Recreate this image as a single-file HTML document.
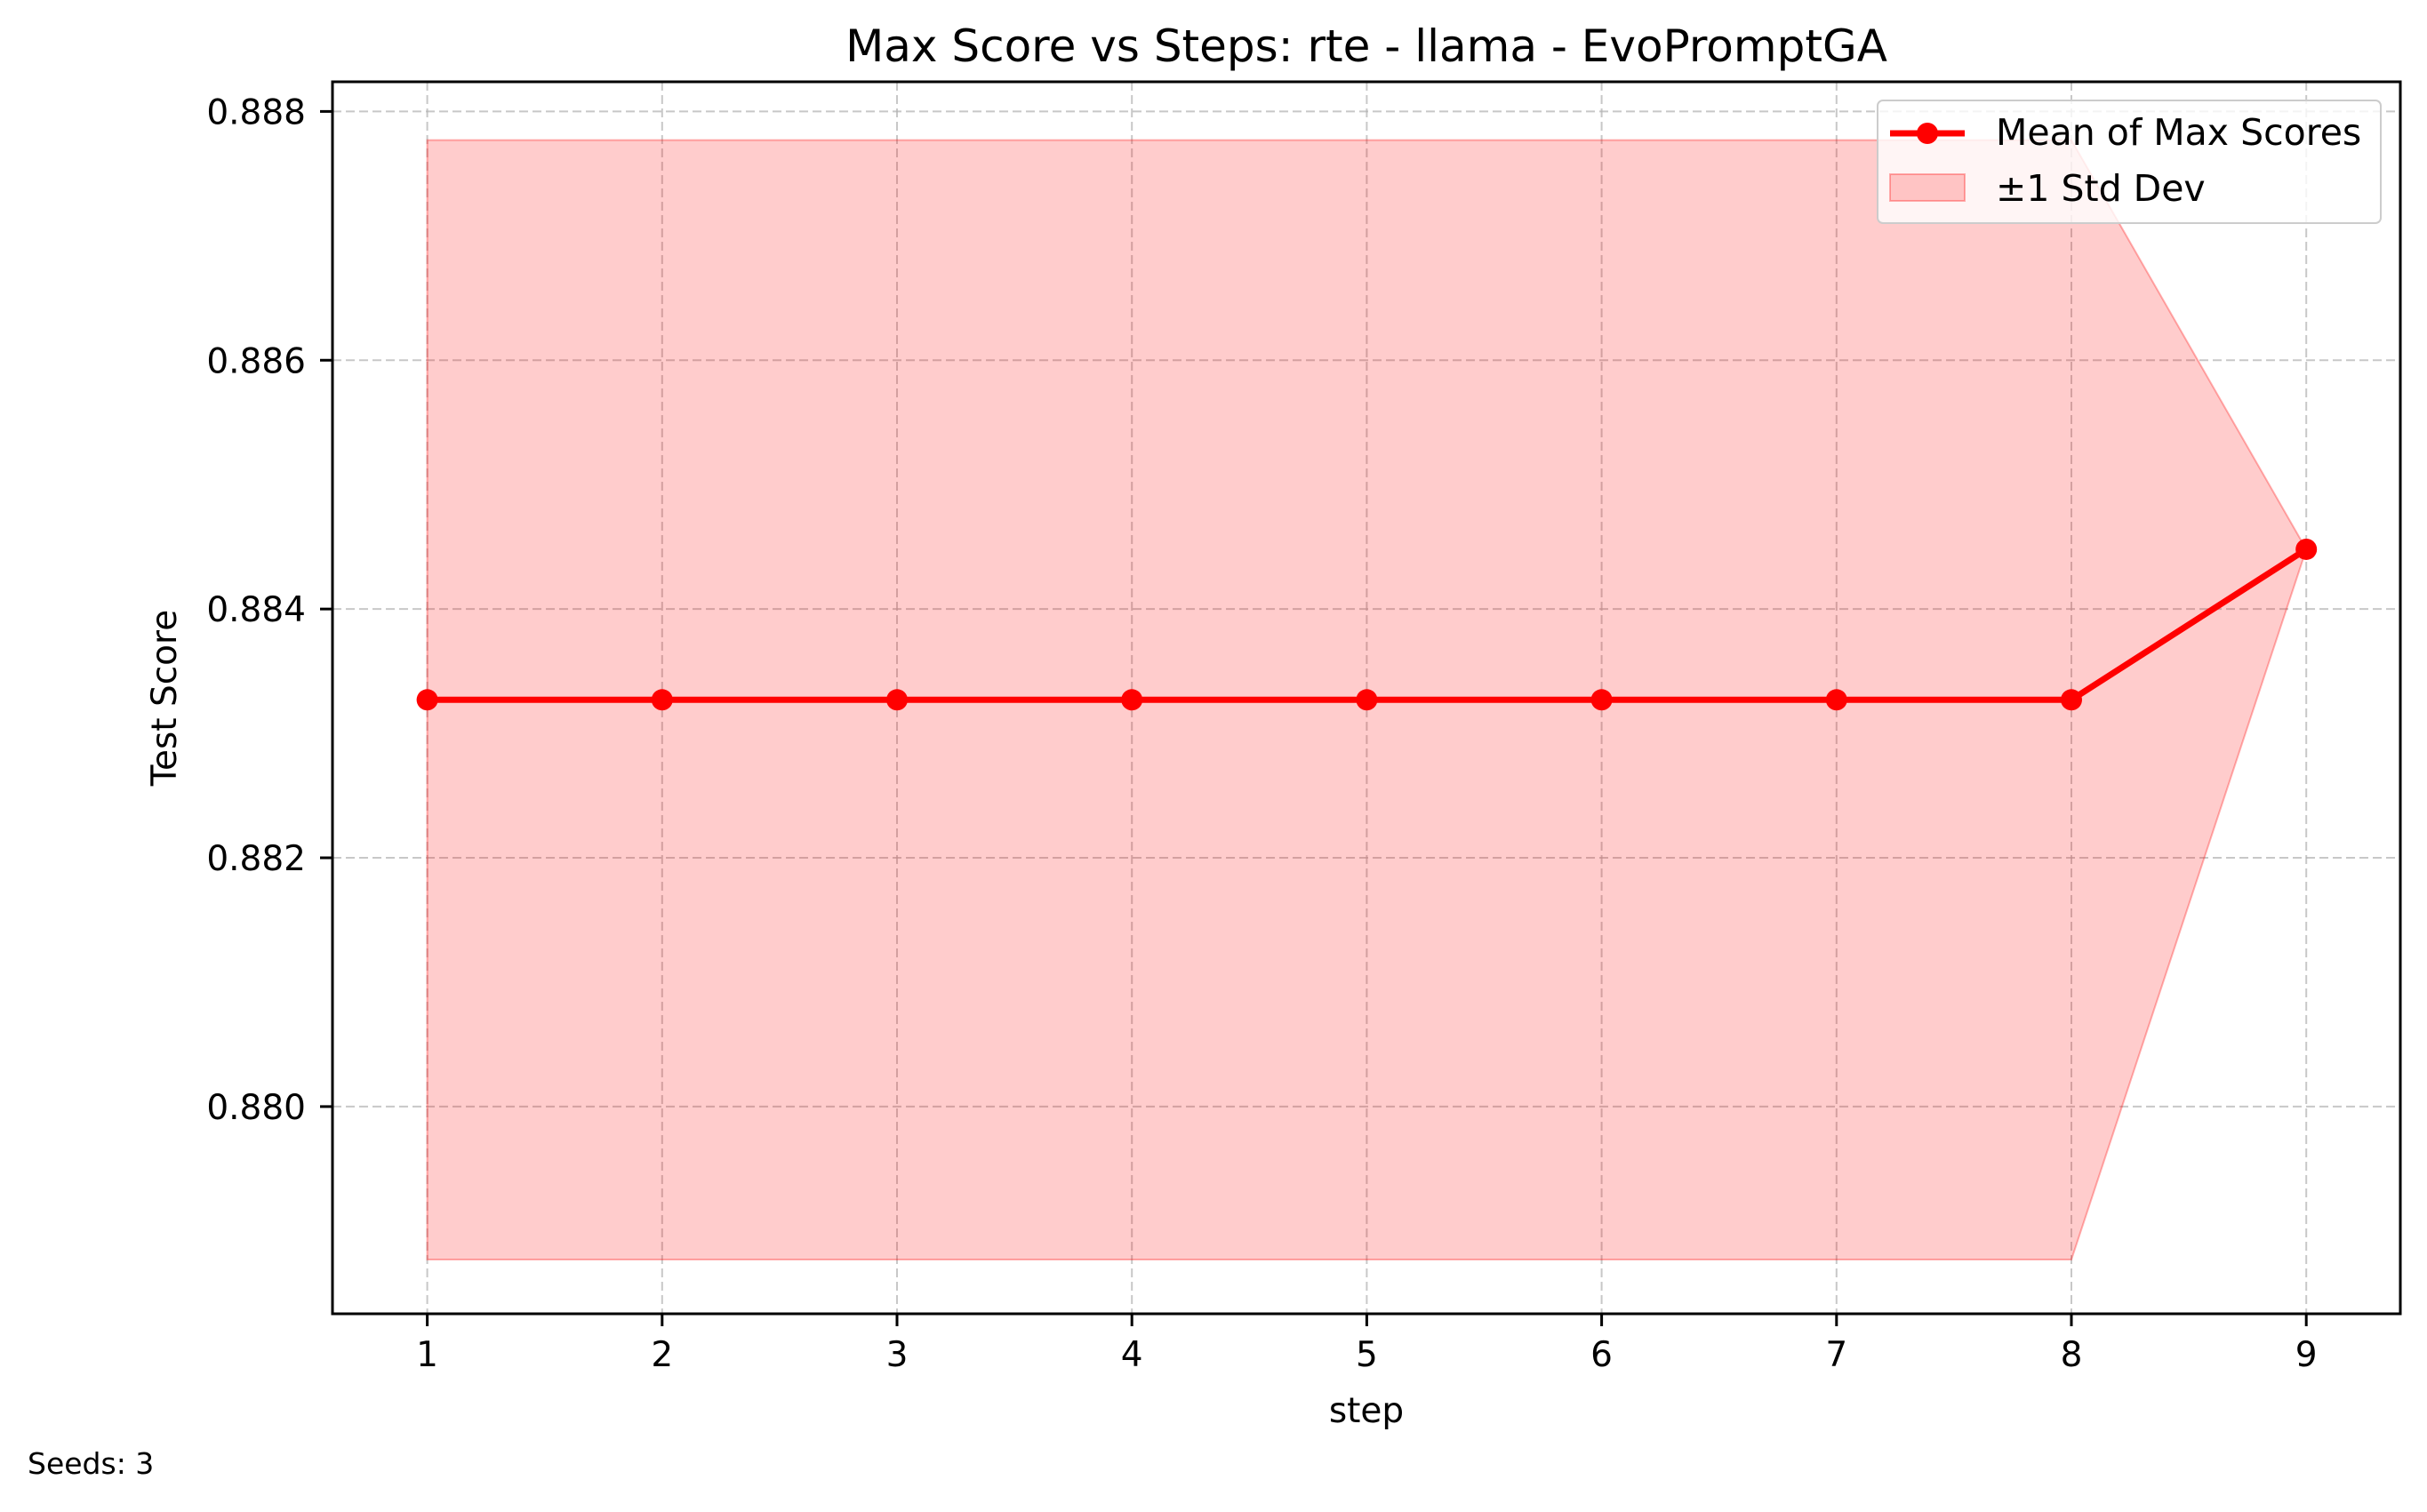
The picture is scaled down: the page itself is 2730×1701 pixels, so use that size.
<!DOCTYPE html>
<html><head><meta charset="utf-8"><style>
html,body{margin:0;padding:0;background:#fff;}
svg text{font-family:"DejaVu Sans","Liberation Sans",sans-serif;fill:#000;}
</style></head><body>
<svg id="chart" width="2730" height="1696" viewBox="0 0 2730 1696" xmlns="http://www.w3.org/2000/svg">
<rect width="2730" height="1696" fill="#fff"/>
<g id="grid"></g>
<g id="band"></g>
<g id="line"></g>
<rect x="374" y="92" width="2326" height="1386" fill="none" stroke="#000" stroke-width="3"/>
<g id="ticks"></g>
<text x="1537" y="69" font-size="50" text-anchor="middle">Max Score vs Steps: rte - llama - EvoPromptGA</text>
<text x="1537" y="1600" font-size="39" text-anchor="middle">step</text>
<text transform="translate(198,785) rotate(-90)" font-size="39" text-anchor="middle">Test Score</text>
<text x="31" y="1658" font-size="33">Seeds: 3</text>
<g>
<rect x="2112" y="113" width="566" height="138" rx="6" fill="#fff" fill-opacity="0.8" stroke="#ccc" stroke-width="2"/>
<line x1="2126" y1="150" x2="2210" y2="150" stroke="#ff0000" stroke-width="7"/>
<circle cx="2168" cy="150" r="12" fill="#ff0000"/>
<text x="2245" y="163" font-size="41">Mean of Max Scores</text>
<rect x="2126" y="196" width="84" height="30" fill="#ff0000" fill-opacity="0.2" stroke="#ff0000" stroke-opacity="0.3" stroke-width="2"/>
<text x="2245" y="226" font-size="41">±1 Std Dev</text>
</g>
</svg>
<script>
const steps=[1,2,3,4,5,6,7,8,9];
const means=[0.88327,0.88327,0.88327,0.88327,0.88327,0.88327,0.88327,0.88327,0.88448];
const stds=[0.0045,0.0045,0.0045,0.0045,0.0045,0.0045,0.0045,0.0045,0.0];
const xTicks=[1,2,3,4,5,6,7,8,9];
const yTicks=[0.880,0.882,0.884,0.886,0.888];
const NS='http://www.w3.org/2000/svg';
function X(v){return 480.6+(v-1)*264.2;}
function Y(v){return 1244.9-(v-0.880)*139940;}
function mk(t,a,p){const e=document.createElementNS(NS,t);for(const k in a)e.setAttribute(k,a[k]);p.appendChild(e);return e;}
const grid=document.getElementById('grid'),ticks=document.getElementById('ticks');
xTicks.forEach(v=>{
 const g=mk('line',{x1:X(v),x2:X(v),y1:92,y2:1478,stroke:'#b0b0b0','stroke-width':2,'stroke-dasharray':'10,5','stroke-opacity':0.7},grid);
 
 
 mk('line',{x1:X(v),x2:X(v),y1:1478,y2:1492,stroke:'#000','stroke-width':3},ticks);
 const t=mk('text',{x:X(v),y:1537,'font-size':39,'text-anchor':'middle'},ticks);
 t.textContent=v;
 
 
});
yTicks.forEach(v=>{
 const g=mk('line',{x1:374,x2:2700,y1:Y(v),y2:Y(v),stroke:'#b0b0b0','stroke-width':2,'stroke-dasharray':'10,5','stroke-opacity':0.7},grid);
 
 
 mk('line',{x1:360,x2:374,y1:Y(v),y2:Y(v),stroke:'#000','stroke-width':3},ticks);
 const t=mk('text',{x:344,y:Y(v)+14,'font-size':39,'text-anchor':'end'},ticks);
 t.textContent=v.toFixed(3);
 
 
});
let up=steps.map((s,i)=>X(s)+','+Y(means[i]+stds[i]));
let lo=steps.map((s,i)=>X(s)+','+Y(means[i]-stds[i])).reverse();
const band=mk('polygon',{points:up.concat(lo).join(' '),fill:'#ff0000','fill-opacity':0.2,stroke:'#ff0000','stroke-opacity':0.3,'stroke-width':2},document.getElementById('band'));


const lg=document.getElementById('line');
const pl=mk('polyline',{points:steps.map((s,i)=>X(s)+','+Y(means[i])).join(' '),fill:'none',stroke:'#ff0000','stroke-width':7,'stroke-linejoin':'round'},lg);


steps.forEach((s,i)=>{
 const c=mk('circle',{cx:X(s),cy:Y(means[i]),r:12,fill:'#ff0000'},lg);
 
 
});
</script>
</body></html>
